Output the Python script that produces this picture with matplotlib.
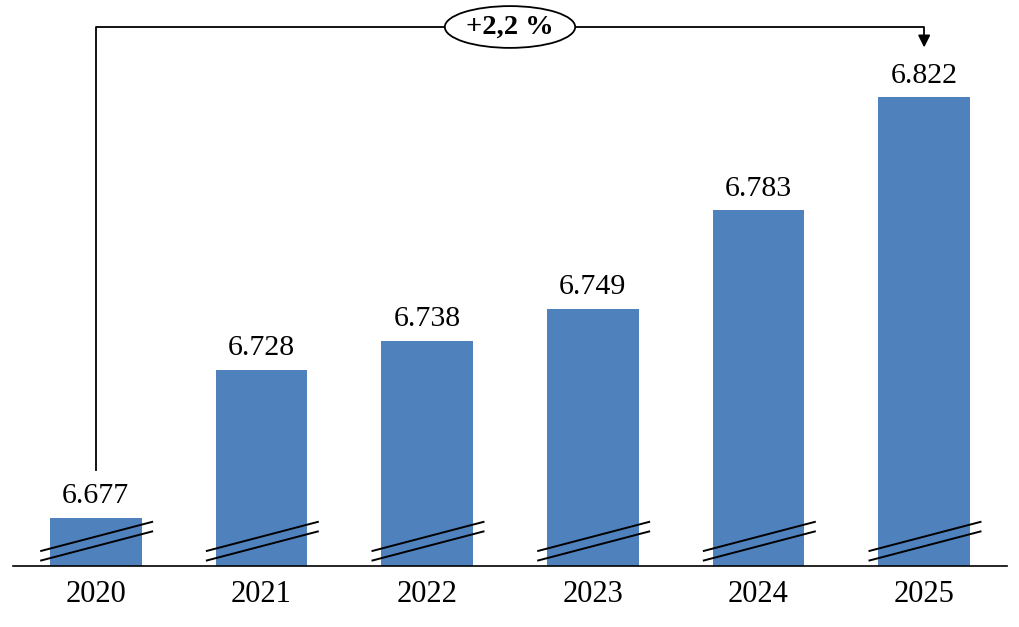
import matplotlib.pyplot as plt

years = ['2020', '2021', '2022', '2023', '2024', '2025']
values = [6.677, 6.728, 6.738, 6.749, 6.783, 6.822]
labels = ['6.677', '6.728', '6.738', '6.749', '6.783', '6.822']

plt.rcParams['font.family'] = ['Liberation Serif', 'DejaVu Serif']

fig = plt.figure(figsize=(10.2, 6.27), dpi=100)
ax = fig.add_axes([13 / 1020, 61 / 627, 994 / 1020, 566 / 627])

x = list(range(len(years)))
ymin, ymax = 6.6605, 6.8555
ax.bar(x, values, width=0.555, color='#4F81BD', bottom=0)
ax.set_ylim(ymin, ymax)
ax.set_xlim(-0.5, len(years) - 0.5)

# подписи значений
for xi, v, lab in zip(x, values, labels):
    ax.text(xi, v + 0.003, lab, ha='center', va='bottom', fontsize=21.5)

# значки разрыва оси
for xi in x:
    for off in (0.0069, 0.0102):
        ax.plot([xi - 0.33, xi + 0.34], [ymin + off - 0.005, ymin + off + 0.005],
                color='black', lw=1.4, clip_on=False)

# скобка с процентом роста
top = max(values) + 0.0242
y0 = values[0] + 0.0165
y1 = values[-1] + 0.0162
ax.plot([x[0], x[0], x[-1], x[-1]], [y0, top, top, y1 + 0.004], color='black', lw=1.3)
ax.annotate('', xy=(x[-1], y1), xytext=(x[-1], y1 + 0.0045),
            arrowprops=dict(arrowstyle='-|>', color='black', lw=1.3, mutation_scale=18))
growth = (values[-1] / values[0] - 1) * 100
ax.text((x[0] + x[-1]) / 2, top, '+' + f'{growth:.1f}'.replace('.', ',') + ' %',
        ha='center', va='center', fontsize=20.5, fontweight='bold',
        bbox=dict(boxstyle='ellipse,pad=0.08', fc='white', ec='black', lw=1.3))

for s in ['left', 'right', 'top']:
    ax.spines[s].set_visible(False)
ax.spines['bottom'].set_linewidth(1.2)
ax.set_yticks([])
ax.set_xticks(x)
ax.set_xticklabels(years, fontsize=22)
ax.tick_params(axis='x', length=0, pad=10)

fig.savefig('out.png', dpi=100)
